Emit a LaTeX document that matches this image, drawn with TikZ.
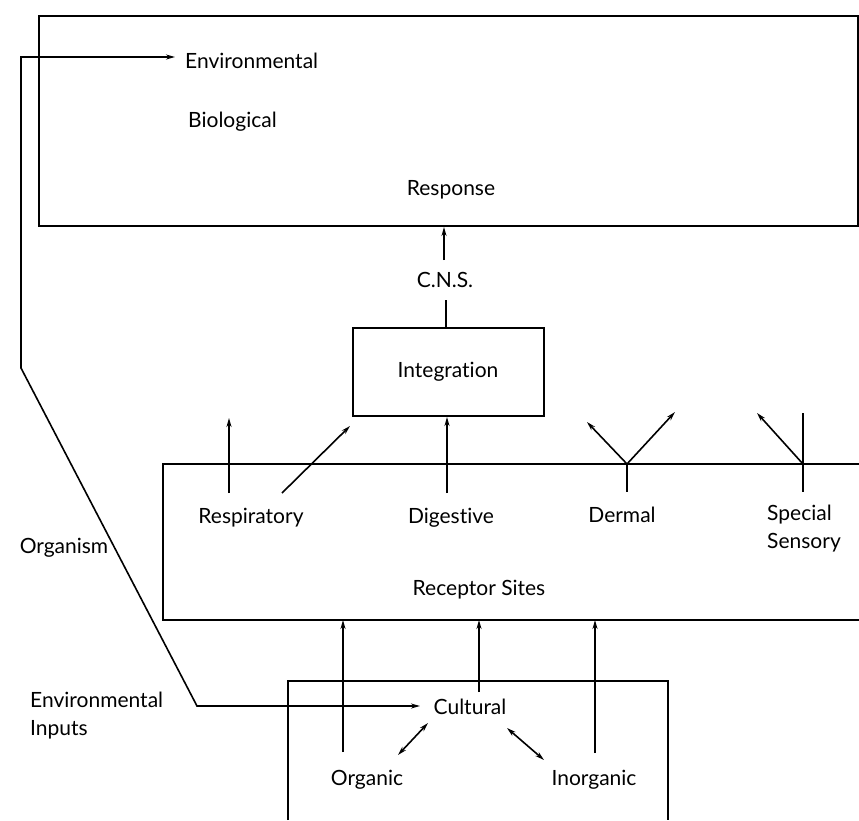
\documentclass[tikz,border=0pt]{standalone}
\usepackage{fontspec}
\setmainfont{Lato}[Ligatures=CommonOff]
\usetikzlibrary{arrows.meta}
\begin{document}
\begin{tikzpicture}[x=1pt,y=-1pt,
  lbl/.style={font=\fontsize{21}{28}\selectfont, inner sep=0pt},
  box/.style={draw, line width=2pt},
  ln/.style={line width=1.6pt},
  arr/.style={ln, -{Stealth[length=9pt,width=5pt]}},
  darr/.style={ln, {Stealth[length=9pt,width=5pt]}-{Stealth[length=9pt,width=5pt]}},
]
\useasboundingbox (0,0) rectangle (859,820);

% top box
\node[box, minimum width=819pt, minimum height=210pt, anchor=north west, inner sep=0pt] (topbox) at (38,15) {};
\node[lbl, anchor=west] (env) at (185,61) {Environmental};
\node[lbl, anchor=west] (bio) at (188,122) {Biological};
\node[lbl] (resp) at (451,190) {Response};

% CNS and integration
\node[lbl] (cns) at (445,280) {C.N.S.};
\node[box, lbl, minimum width=191pt, minimum height=88pt] (integ) at (448,372) {Integration};
\coordinate (cnsA) at (444,260);
\draw[arr] (cnsA) -- (cnsA |- topbox.south);
\coordinate (cnsB) at (446,300);
\draw[ln] (cnsB) -- (cnsB |- integ.north);

% receptor box (open right)
\coordinate (rb1) at (859,464);
\coordinate (rb2) at (163,464);
\coordinate (rb3) at (163,620);
\coordinate (rb4) at (859,620);
\draw[box] (rb1) -- (rb2) -- (rb3) -- (rb4);

\node[lbl] (respir) at (251,518) {Respiratory};
\node[lbl] (dig) at (451,518) {Digestive};
\node[lbl] (derm) at (622,515) {Dermal};
\node[lbl, align=left, anchor=west] (spec) at (767,529) {Special\\Sensory};
\node[lbl] (rsites) at (479,590) {Receptor Sites};

% respiratory arrows
\coordinate (r1) at (229,493);
\coordinate (r1t) at (229,418);
\draw[arr] (r1) -- (r1t);
\coordinate (r2) at (282,493);
\coordinate (r2t) at (350,426);
\draw[arr] (r2) -- (r2t);
% digestive
\coordinate (d1) at (447,493);
\draw[arr] (d1) -- (d1 |- integ.south);
% dermal
\coordinate (dj) at (627,464);
\coordinate (djb) at (627,492);
\coordinate (djl) at (587,422);
\coordinate (djr) at (675,412);
\draw[ln] (dj) -- (djb);
\draw[arr] (dj) -- (djl);
\draw[arr] (dj) -- (djr);
% special sensory
\coordinate (sj) at (803,464);
\coordinate (sjt) at (803,413);
\coordinate (sjb) at (803,492);
\coordinate (sjl) at (757,413);
\draw[ln] (sjt) -- (sjb);
\draw[arr] (sj) -- (sjl);

% organism feedback loop
\node[lbl] (org) at (64,548) {Organism};
\node[lbl, align=left, anchor=west] (envin) at (30,716) {Environmental\\Inputs};
\coordinate (envtip) at (175,57);
\coordinate (c1) at (21,57);
\coordinate (c2) at (21,368);
\coordinate (c3) at (197,706);
\coordinate (culttip) at (420,706);
\draw[darr] (envtip) -- (c1) -- (c2) -- (c3) -- (culttip);

% cultural box (open bottom)
\coordinate (cb1) at (288,820);
\coordinate (cb2) at (288,681);
\coordinate (cb3) at (668,681);
\coordinate (cb4) at (668,820);
\draw[box] (cb1) -- (cb2) -- (cb3) -- (cb4);

\node[lbl] (cult) at (470,707) {Cultural};
\node[lbl] (orgc) at (367,780) {Organic};
\node[lbl] (inorg) at (594,780) {Inorganic};

% upward arrows into receptor sites
\coordinate (o1) at (343,752);
\draw[arr] (o1) -- (o1 |- rb3);
\coordinate (cu1) at (479,692);
\draw[arr] (cu1) -- (cu1 |- rb3);
\coordinate (i1) at (595,753);
\draw[arr] (i1) -- (i1 |- rb3);

% double arrows
\coordinate (oa) at (398,755);
\coordinate (ob) at (428,723);
\draw[darr] (oa) -- (ob);
\coordinate (ia) at (544,760);
\coordinate (ib) at (507,728);
\draw[darr] (ia) -- (ib);
\end{tikzpicture}
\end{document}
